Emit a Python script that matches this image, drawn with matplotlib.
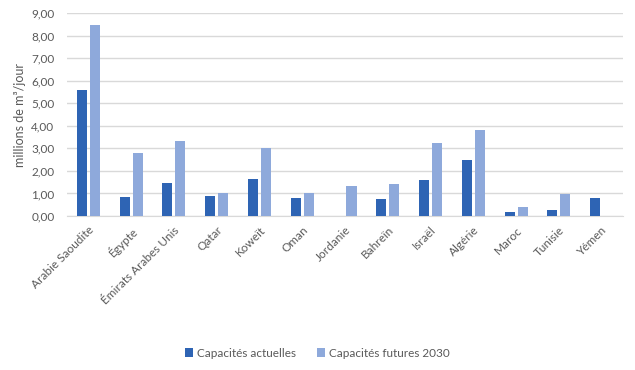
import numpy as np
import matplotlib
matplotlib.use("Agg")
import matplotlib.pyplot as plt
from matplotlib.ticker import FuncFormatter

plt.rcParams["font.family"] = ["Lato", "DejaVu Sans"]

PAYS = ["Arabie Saoudite", "Égypte", "Émirats Arabes Unis", "Qatar", "Koweït",
        "Oman", "Jordanie", "Bahreïn", "Israël", "Algérie", "Maroc", "Tunisie", "Yémen"]
ACTUELLES = [5.58, 0.83, 1.48, 0.88, 1.65, 0.79, 0.0, 0.77, 1.59, 2.48, 0.19, 0.25, 0.80]
FUTURES = [8.48, 2.80, 3.32, 1.00, 3.02, 1.00, 1.34, 1.40, 3.25, 3.81, 0.38, 0.99, 0.0]

C_ACT = "#2E64B4"
C_FUT = "#8EA9DB"
GRAY = "#595959"

fig = plt.figure(figsize=(6.35, 3.70), dpi=100)
ax = fig.add_axes([67 / 635, 1 - 216 / 370, (623 - 67) / 635, (216 - 13) / 370])

x = np.arange(len(PAYS))
w = 0.235
ax.bar(x - w / 2 - 0.035, ACTUELLES, w, color=C_ACT, label="Capacités actuelles", zorder=3)
ax.bar(x + w / 2 + 0.035, FUTURES, w, color=C_FUT, label="Capacités futures 2030", zorder=3)

ax.set_xlim(-0.5, len(PAYS) - 0.5)
ax.set_ylim(0, 9)
ax.set_yticks(np.arange(0, 9.01, 1))
ax.yaxis.set_major_formatter(FuncFormatter(lambda v, p: f"{v:.2f}".replace(".", ",")))
ax.grid(axis="y", color="#D9D9D9", lw=1, zorder=0)
for s in ["top", "right", "left"]:
    ax.spines[s].set_visible(False)
ax.spines["bottom"].set_color("#D9D9D9")
ax.tick_params(axis="both", length=0, colors=GRAY, labelsize=8.5)
ax.tick_params(axis="y", pad=9)
ax.set_xticks(x)
ax.set_xticklabels(PAYS, rotation=45, ha="right", rotation_mode="anchor")
ax.tick_params(axis="x", pad=6)
ax.set_ylabel("millions de m³/jour", color=GRAY, fontsize=9, labelpad=4)

ax.legend(loc="center", bbox_to_anchor=(0.45, -0.675), ncol=2, frameon=False,
          fontsize=8.5, handlelength=0.7, handleheight=0.7, handletextpad=0.3,
          columnspacing=1.8, labelcolor=GRAY)

fig.savefig("out.png", dpi=100)
